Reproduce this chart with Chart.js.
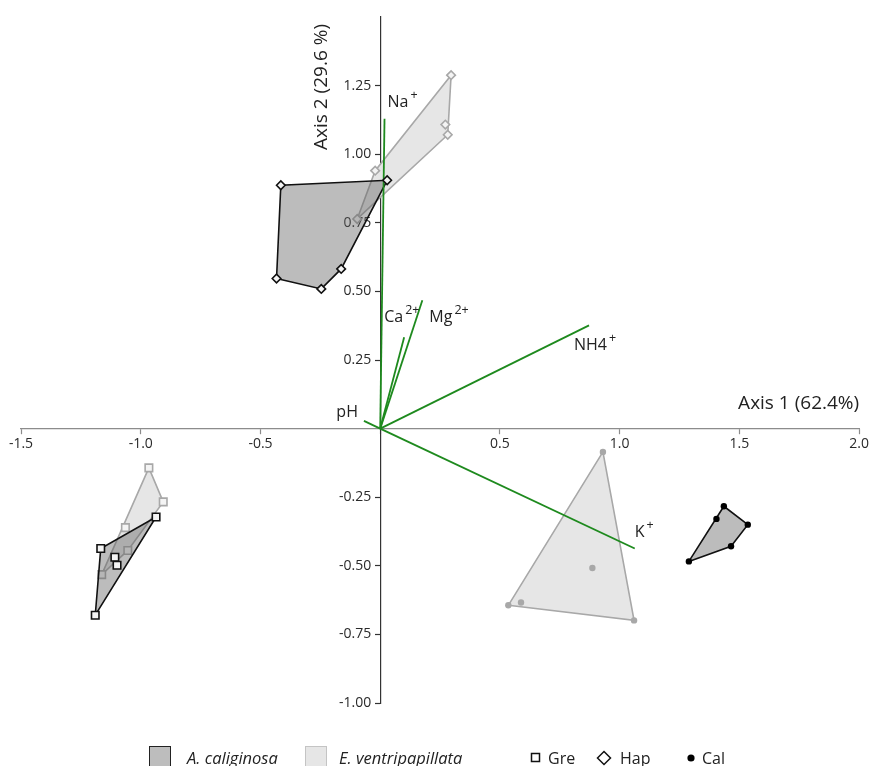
<!DOCTYPE html>
<html><head><meta charset="utf-8">
<script src="https://cdn.jsdelivr.net/npm/chart.js@4/dist/chart.umd.min.js"></script>
<style>html,body{margin:0;padding:0;background:#fff;overflow:hidden}</style>
</head><body>
<canvas id="c" width="871" height="766"></canvas>
<script>
// ---------- text ----------
const axis1Title = 'Axis 1 (62.4%)';
const axis2Title = 'Axis 2 (29.6 %)';
const speciesNames = ['A. caliginosa', 'E. ventripapillata'];
const soilNames = ['Gre', 'Hap', 'Cal'];

// ---------- sample scores (A. caliginosa) ----------
const acGreX = [-0.936, -1.167, -1.108, -1.099, -1.190];
const acGreY = [-0.322, -0.437, -0.469, -0.498, -0.680];
const acHapX = [-0.415, 0.029, -0.163, -0.246, -0.433];
const acHapY = [0.887, 0.905, 0.582, 0.509, 0.547];
const acCalX = [1.435, 1.404, 1.535, 1.465, 1.289];
const acCalY = [-0.283, -0.329, -0.350, -0.429, -0.484];

// ---------- sample scores (E. ventripapillata) ----------
const evGreX = [-0.966, -0.906, -1.064, -1.054, -1.163];
const evGreY = [-0.143, -0.267, -0.361, -0.444, -0.532];
const evHapX = [0.296, 0.272, 0.282, -0.021, -0.096];
const evHapY = [1.288, 1.108, 1.071, 0.940, 0.764];
const evCalX = [0.930, 1.060, 0.535, 0.588, 0.886];
const evCalY = [-0.085, -0.699, -0.644, -0.634, -0.508];

// ---------- environmental vectors ----------
const vecNames = ['Na', 'Ca', 'Mg', 'NH4', 'pH', 'K'];
const vecSup   = ['+', '2+', '2+', '+', '', '+'];
const vecX = [0.018, 0.100, 0.176, 0.872, -0.068, 1.063];
const vecY = [1.129, 0.333, 0.468, 0.376, 0.028, -0.437];

// ---------- axis ranges / ticks ----------
const xMin = -1.5, xMax = 2.0, xStep = 0.5;
const yMin = -1.0, yMax = 1.5, yStep = 0.25;

// ---------- styles (layout, not data) ----------
const FONT = "'Open Sans', 'Noto Sans', sans-serif";
const GREEN = '#1e8a1e';
const DARK_FILL = 'rgba(95,95,95,0.42)';
const LIGHT_FILL = '#e6e6e6';
const DARK_LINE = '#111111';
const LIGHT_LINE = '#a8a8a8';
const Y_LABEL_GAP = -0.0375; // y tick labels sit ~9px left of the vertical axis
// label placement relative to vector tip: [dx, dyBaseline, align]
const vecLabelOffset = [[3,-12,'left'],[-20,-15,'left'],[7,22,'left'],[-15,25,'left'],[-6,-4,'right'],[0,-12,'left']];

function pts(xs, ys){ return xs.map((x,i)=>({x:x, y:ys[i]})); }
function convexHull(points){
  const p = points.slice().sort((a,b)=> a.x===b.x ? a.y-b.y : a.x-b.x);
  const cross=(o,a,b)=>(a.x-o.x)*(b.y-o.y)-(a.y-o.y)*(b.x-o.x);
  const lower=[];
  for(const q of p){ while(lower.length>=2 && cross(lower[lower.length-2],lower[lower.length-1],q)<=0) lower.pop(); lower.push(q); }
  const upper=[];
  for(let i=p.length-1;i>=0;i--){ const q=p[i]; while(upper.length>=2 && cross(upper[upper.length-2],upper[upper.length-1],q)<=0) upper.pop(); upper.push(q); }
  upper.pop(); lower.pop();
  const h = lower.concat(upper); h.push(h[0]); return h;
}
function polyDS(xs, ys, fill, line, order){
  return {data: convexHull(pts(xs,ys)), showLine:true, fill:'shape', backgroundColor: fill,
          borderColor: line, borderWidth: 1.6, pointRadius: 0, pointHoverRadius:0, order: order};
}
function markDS(xs, ys, style, r, fill, line, bw, order){
  return {data: pts(xs,ys), showLine:false, pointStyle: style, pointRadius: r, pointHoverRadius: r,
          backgroundColor: fill, borderColor: line, pointBorderWidth: bw, borderWidth: bw, order: order};
}
const datasets = [];
datasets.push(polyDS(evGreX, evGreY, LIGHT_FILL, LIGHT_LINE, 10));
datasets.push(polyDS(evHapX, evHapY, LIGHT_FILL, LIGHT_LINE, 10));
datasets.push(polyDS(evCalX, evCalY, LIGHT_FILL, LIGHT_LINE, 10));
datasets.push(markDS(evGreX, evGreY, 'rect', 5.3, '#f4f4f4', LIGHT_LINE, 1.6, 9));
datasets.push(markDS(evHapX, evHapY, 'rectRot', 4.3, '#f4f4f4', LIGHT_LINE, 1.6, 9));
datasets.push(markDS(evCalX, evCalY, 'circle', 3.2, LIGHT_LINE, LIGHT_LINE, 0, 9));
datasets.push(polyDS(acGreX, acGreY, DARK_FILL, DARK_LINE, 8));
datasets.push(polyDS(acHapX, acHapY, DARK_FILL, DARK_LINE, 8));
datasets.push(polyDS(acCalX, acCalY, DARK_FILL, DARK_LINE, 8));
vecNames.forEach((n,i)=>{
  datasets.push({data:[{x:0,y:0},{x:vecX[i],y:vecY[i]}], showLine:true, fill:false, borderColor: GREEN,
                 borderWidth: 1.8, pointRadius:0, pointHoverRadius:0, order: 7});
});
datasets.push(markDS(acGreX, acGreY, 'rect', 5.3, '#f4f4f4', DARK_LINE, 1.6, 6));
datasets.push(markDS(acHapX, acHapY, 'rectRot', 4.3, '#f4f4f4', DARK_LINE, 1.6, 6));
datasets.push(markDS(acCalX, acCalY, 'circle', 3.2, '#000', '#000', 0, 6));

const isV = (a,b)=>Math.abs(a-b)<1e-9;

const overlay = {
  id: 'overlay',
  afterDatasetsDraw(chart){
    const ctx = chart.ctx, xs = chart.scales.x, ys = chart.scales.y;
    ctx.save();
    ctx.fillStyle = '#222';
    vecNames.forEach((n,i)=>{
      const px = xs.getPixelForValue(vecX[i]), py = ys.getPixelForValue(vecY[i]);
      const o = vecLabelOffset[i];
      ctx.font = '16px ' + FONT;
      ctx.textBaseline = 'alphabetic';
      ctx.textAlign = o[2];
      const bx = px + o[0], by = py + o[1];
      ctx.fillText(n, bx, by);
      if (vecSup[i]) {
        const w = ctx.measureText(n).width;
        ctx.font = '12.5px ' + FONT;
        ctx.textAlign = 'left';
        ctx.fillText(vecSup[i], bx + w + 2, by - 8);
      }
    });
    ctx.fillStyle = '#222';
    ctx.font = '19px ' + FONT;
    ctx.textAlign = 'right'; ctx.textBaseline = 'alphabetic';
    ctx.fillText(axis1Title, chart.chartArea.right, 409);
    ctx.save();
    ctx.translate(327, 87); ctx.rotate(-Math.PI/2);
    ctx.textAlign = 'center';
    ctx.fillText(axis2Title, 0, 0);
    ctx.restore();
    // legend
    ctx.lineWidth = 1;
    ctx.fillStyle = '#bdbdbd'; ctx.strokeStyle = '#222';
    ctx.fillRect(149.5, 746.5, 21, 22); ctx.strokeRect(149.5, 746.5, 21, 22);
    ctx.fillStyle = LIGHT_FILL; ctx.strokeStyle = '#c4c4c4';
    ctx.fillRect(305.5, 746.5, 21, 22); ctx.strokeRect(305.5, 746.5, 21, 22);
    ctx.fillStyle = '#222';
    ctx.font = 'italic 16.5px ' + FONT; ctx.textAlign = 'left';
    ctx.fillText(speciesNames[0], 187, 764);
    ctx.fillText(speciesNames[1], 339, 764);
    ctx.font = '16px ' + FONT;
    ctx.fillText(soilNames[0], 548, 764);
    ctx.fillText(soilNames[1], 620, 764);
    ctx.fillText(soilNames[2], 702, 764);
    ctx.strokeStyle = '#111'; ctx.lineWidth = 1.5;
    ctx.strokeRect(531.5, 753.5, 8, 8);
    ctx.beginPath(); ctx.moveTo(604, 751.5); ctx.lineTo(610.5, 758); ctx.lineTo(604, 764.5); ctx.lineTo(597.5, 758); ctx.closePath(); ctx.stroke();
    ctx.fillStyle = '#000'; ctx.beginPath(); ctx.arc(691, 758, 3.6, 0, Math.PI*2); ctx.fill();
    ctx.restore();
  }
};

const tickFont = { family: FONT, size: 14 };
new Chart(document.getElementById('c'), {
  type: 'scatter',
  data: { datasets: datasets },
  options: {
    responsive: false, animation: false, devicePixelRatio: 1,
    layout: { padding: { left: 21, right: 10, top: 17, bottom: 63 } },
    plugins: { legend: {display:false}, tooltip: {enabled:false}, title:{display:false} },
    elements: { line: { tension: 0 } },
    scales: {
      x: {
        type: 'linear', min: xMin, max: xMax, position: {y: 0},
        afterFit: s => { s.height = 0; },
        border: { display: true, color: '#8c8c8c', width: 1.2 },
        grid: { drawOnChartArea: false, drawTicks: true, tickLength: 5, tickColor: '#8c8c8c', tickWidth: 1.2 },
        ticks: { stepSize: xStep, autoSkip: false, maxRotation: 0, padding: 2, color: '#2a2a2a',
                 font: tickFont, callback: v => isV(v,0) ? '' : v.toFixed(1) }
      },
      y: {
        type: 'linear', min: yMin, max: yMax, position: {x: 0},
        afterFit: s => { s.width = 0; },
        border: { display: true, color: '#333', width: 1.2 },
        grid: { drawOnChartArea: false, drawTicks: true, tickLength: 5, tickWidth: 1.2,
                tickColor: c => (c.tick && (isV(c.tick.value, yMax) || isV(c.tick.value,0))) ? 'rgba(0,0,0,0)' : '#333' },
        ticks: { stepSize: yStep, autoSkip: false, display: false }
      },
      yLabels: {
        type: 'linear', axis: 'y', min: yMin, max: yMax, position: {x: Y_LABEL_GAP},
        afterFit: s => { s.width = 0; },
        border: { display: false },
        grid: { display: false, drawOnChartArea: false, drawTicks: false },
        ticks: { stepSize: yStep, autoSkip: false, padding: 0, color: '#2a2a2a', font: tickFont,
                 callback: v => (isV(v,0) || isV(v,yMax)) ? '' : v.toFixed(2) }
      }
    }
  },
  plugins: [overlay]
});
</script>
</body></html>
